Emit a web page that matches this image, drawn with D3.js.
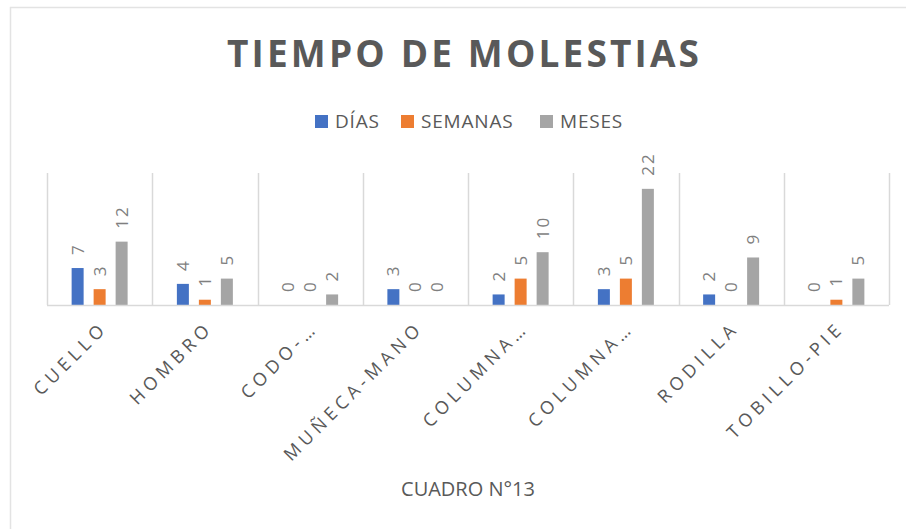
<!DOCTYPE html>
<html>
<head>
    <meta charset="utf-8">
    <title>Tiempo de molestias</title>
    <script src="https://d3js.org/d3.v7.min.js"></script>
    <style>
        body { margin: 0; background: #fff; }
        text { font-family: "Open Sans", "Liberation Sans", sans-serif; }
    </style>
</head>
<body>
    <div id="chart"></div>
    <script>
        let categories = ["CUELLO", "HOMBRO", "CODO-…", "MUÑECA-MANO", "COLUMNA…", "COLUMNA…", "RODILLA", "TOBILLO-PIE"];
        let seriesNames = ["DÍAS", "SEMANAS", "MESES"];
        let dias = [7, 4, 0, 3, 2, 3, 2, 0];
        let semanas = [3, 1, 0, 0, 5, 5, 0, 1];
        let meses = [12, 5, 2, 0, 10, 22, 9, 5];
        let colors = ["#4472c4", "#ed7d31", "#a5a5a5"];
        let yMax = 25;

        let width = 906;
        let height = 529;
        let marginLeft = 47;
        let marginRight = 17;
        let plotTop = 173;
        let plotBottom = 305;

        let values = [dias, semanas, meses];
        let rows = [];
        categories.forEach((c, i) => {
            seriesNames.forEach((s, j) => {
                rows.push({ cat: i, series: s, value: values[j][i] });
            });
        });

        let svg = d3.select("#chart").append("svg")
            .attr("width", width)
            .attr("height", height);

        // chart border (only top/left visible in the crop)
        svg.append("rect")
            .attr("x", 10.5).attr("y", 7.5)
            .attr("width", 1000).attr("height", 1000)
            .attr("fill", "none")
            .attr("stroke", "#e3e3e3")
            .attr("stroke-width", 1.5);

        let x0 = d3.scaleBand()
            .domain(d3.range(categories.length))
            .range([marginLeft, width - marginRight])
            .padding(0);

        let groupW = x0.bandwidth() * 0.532;
        let x1 = d3.scaleBand()
            .domain(seriesNames)
            .range([-groupW / 2, groupW / 2])
            .paddingInner(10 / 22)
            .paddingOuter(0);

        let y = d3.scaleLinear()
            .domain([0, yMax])
            .range([plotBottom, plotTop]);

        // vertical separators
        let edges = d3.range(categories.length + 1).map(i => i < categories.length ? x0(i) : x0(i - 1) + x0.bandwidth());
        svg.append("g")
            .selectAll("line")
            .data(edges)
            .join("line")
            .attr("x1", d => Math.round(d) + 0.5)
            .attr("x2", d => Math.round(d) + 0.5)
            .attr("y1", y(yMax))
            .attr("y2", y(0))
            .attr("stroke", "#d9d9d9")
            .attr("stroke-width", 1.5);

        // bars
        let cx = i => x0(i) + x0.bandwidth() / 2;
        svg.append("g")
            .selectAll("rect")
            .data(rows)
            .join("rect")
            .attr("x", d => cx(d.cat) + x1(d.series))
            .attr("y", d => y(d.value))
            .attr("width", x1.bandwidth())
            .attr("height", d => y(0) - y(d.value))
            .attr("fill", d => colors[seriesNames.indexOf(d.series)]);

        // baseline
        svg.append("line")
            .attr("x1", marginLeft).attr("x2", edges[edges.length - 1])
            .attr("y1", y(0) + 0.5).attr("y2", y(0) + 0.5)
            .attr("stroke", "#d9d9d9")
            .attr("stroke-width", 1.5);

        // data labels
        svg.append("g")
            .selectAll("text")
            .data(rows)
            .join("text")
            .attr("transform", d => `translate(${cx(d.cat) + x1(d.series) + x1.bandwidth() / 2},${y(d.value) - 13}) rotate(-90)`)
            .attr("dy", "0.35em")
            .attr("fill", "#7f7f7f")
            .attr("font-size", 17)
            .attr("letter-spacing", 2)
            .text(d => d.value);

        // category labels
        svg.append("g")
            .selectAll("text")
            .data(categories)
            .join("text")
            .attr("transform", (d, i) => `translate(${cx(i) + 9},${plotBottom + 24}) rotate(-45)`)
            .attr("text-anchor", "end")
            .attr("fill", "#595959")
            .attr("font-size", 18)
            .attr("letter-spacing", 4.7)
            .text(d => d);

        // title
        svg.append("text")
            .attr("x", 227)
            .attr("y", 67)
            .attr("fill", "#595959")
            .attr("font-size", 37)
            .attr("font-weight", "bold")
            .attr("textLength", 472)
            .attr("lengthAdjust", "spacing")
            .text("TIEMPO DE MOLESTIAS");

        // legend
        let legendX = [315, 401, 540];
        let legend = svg.append("g")
            .selectAll("g")
            .data(seriesNames)
            .join("g")
            .attr("transform", (d, i) => `translate(${legendX[i]},115)`);
        legend.append("rect")
            .attr("width", 13).attr("height", 13)
            .attr("fill", (d, i) => colors[i]);
        legend.append("text")
            .attr("x", 20)
            .attr("y", 13)
            .attr("fill", "#595959")
            .attr("font-size", 19)
            .attr("letter-spacing", 0.8)
            .text(d => d);

        // axis title
        svg.append("text")
            .attr("x", (marginLeft + edges[edges.length - 1]) / 2)
            .attr("y", 496)
            .attr("text-anchor", "middle")
            .attr("fill", "#595959")
            .attr("font-size", 20)
            .text("CUADRO N°13");
    </script>
</body>
</html>
